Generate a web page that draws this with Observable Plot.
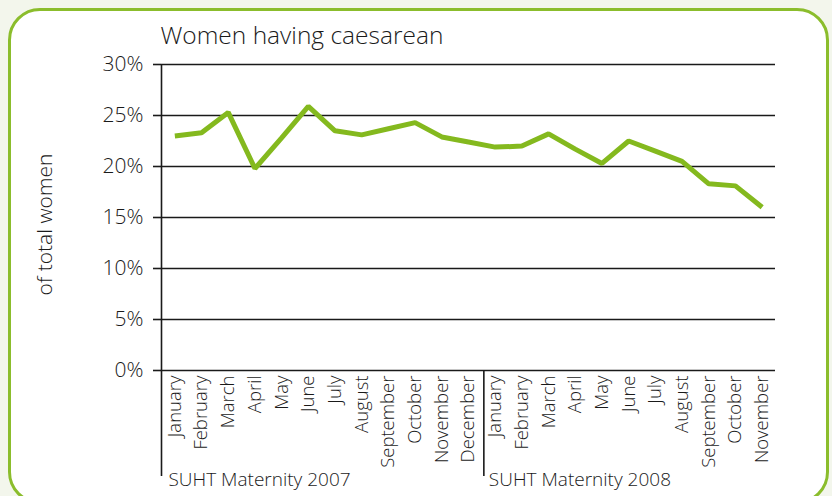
<!DOCTYPE html>
<html>
<head>
<meta charset="utf-8">
<script src="https://cdn.jsdelivr.net/npm/d3@7"></script>
<script src="https://cdn.jsdelivr.net/npm/@observablehq/plot@0.6"></script>
<style>
  html, body { margin: 0; padding: 0; }
  body { width: 832px; height: 496px; overflow: hidden; position: relative; background: #f3f6ec; font-family: "Open Sans", sans-serif; }
  #frame { position: absolute; left: 8px; top: 8px; width: 815px; height: 490px; border: 3px solid #8bbd2c; border-radius: 32px; background: #ffffff; }
  #chart { position: absolute; left: 0; top: 0; }
  #chart svg text { font-weight: 300; }
</style>
</head>
<body>
<div id="frame"></div>
<div id="chart"></div>
<script>
const title = "Women having caesarean";
const yLabel = "of total women";
const yearLabels = ["SUHT Maternity 2007", "SUHT Maternity 2008"];
const months2007 = ["January","February","March","April","May","June","July","August","September","October","November","December"];
const months2008 = ["January","February","March","April","May","June","July","August","September","October","November"];
const values2007 = [23.0, 23.3, 25.3, 19.8, 22.8, 25.9, 23.5, 23.1, 23.7, 24.3, 22.9, 22.4];
const values2008 = [21.9, 22.0, 23.2, 21.7, 20.3, 22.5, 21.5, 20.5, 18.3, 18.1, 16.0];
const yTicks = [0, 5, 10, 15, 20, 25, 30];

const monthLabels = months2007.concat(months2008);
const values = values2007.concat(values2008);
const data = values.map((v, i) => ({i, v}));
const yearStarts = [-0.5, months2007.length - 0.5];
const ink = "#1a1a1a";

const chart = Plot.plot({
  width: 832,
  height: 496,
  marginLeft: 161,
  marginRight: 57,
  marginTop: 64,
  marginBottom: 126,
  style: {background: "transparent", fontFamily: "'Open Sans', sans-serif", overflow: "visible", color: ink},
  x: {type: "linear", domain: [-0.5, monthLabels.length - 0.5]},
  y: {domain: [0, 30]},
  marks: [
    Plot.gridY(yTicks, {stroke: ink, strokeOpacity: 1, strokeWidth: 1.6}),
    Plot.axisY(yTicks, {tickSize: 8, tickPadding: 10, tickFormat: d => d + "%", fontSize: 21, label: null, stroke: ink, strokeWidth: 1.6}),
    Plot.axisX(d3.range(monthLabels.length), {tickSize: 0, tickPadding: 5, tickRotate: -90, tickFormat: i => monthLabels[i], fontSize: 18.5, label: null}),
    Plot.ruleX([yearStarts[0]], {stroke: ink, strokeWidth: 1.6, insetBottom: -106}),
    Plot.ruleX([yearStarts[1]], {stroke: ink, strokeWidth: 1.6, insetTop: 306, insetBottom: -106, dx: 2}),
    Plot.text(yearLabels, {x: (d, i) => yearStarts[i], frameAnchor: "bottom", lineAnchor: "bottom", textAnchor: "start", dx: 7, dy: 115, fontSize: 19, fill: ink}),
    Plot.text([title], {frameAnchor: "top-left", lineAnchor: "bottom", textAnchor: "start", dx: -1, dy: -21, fontSize: 24.5, fill: ink}),
    Plot.text([yLabel], {frameAnchor: "left", rotate: -90, textAnchor: "middle", lineAnchor: "middle", dx: -116, dy: 7, fontSize: 21, fill: ink}),
    Plot.line(data, {x: "i", y: "v", stroke: "#84b91e", strokeWidth: 5, strokeLinejoin: "miter", strokeLinecap: "butt"})
  ]
});
document.getElementById("chart").append(chart);
</script>
</body>
</html>
